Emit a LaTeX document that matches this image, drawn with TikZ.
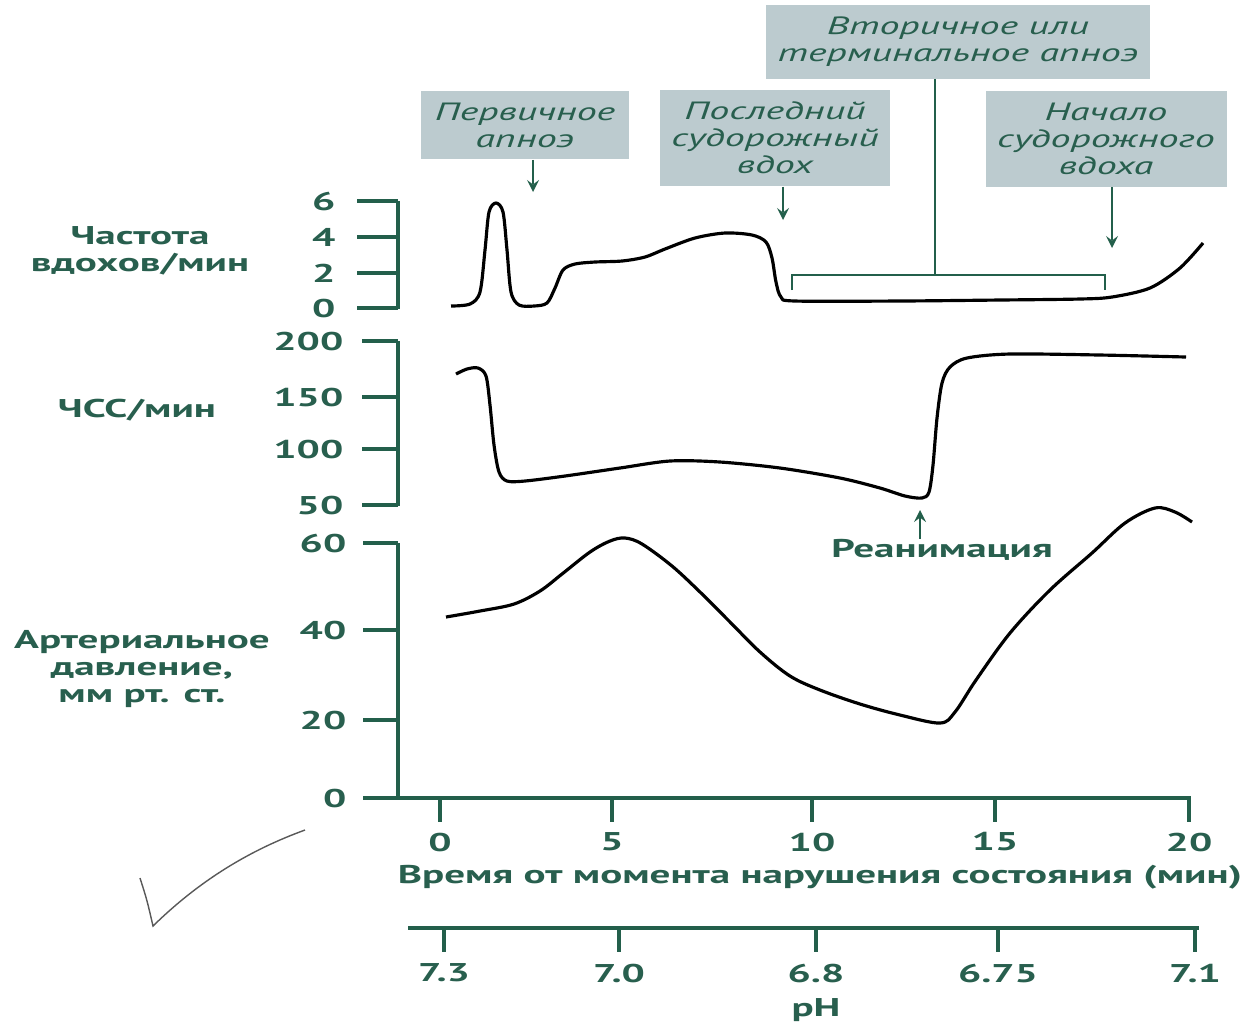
\documentclass[tikz,border=0pt]{standalone}
\usepackage{fontspec}
\setmainfont[FakeStretch=1.6]{PT Sans}
\usetikzlibrary{arrows, positioning}
\definecolor{axgreen}{RGB}{35,95,75}
\definecolor{txtgreen}{RGB}{40,95,78}
\definecolor{boxgrey}{RGB}{188,203,207}

\begin{document}
\begin{tikzpicture}[x=0.01cm, y=-0.01cm, >=stealth,
  axis/.style={axgreen, line width=1.4pt},
  tick/.style={axgreen, line width=0.9pt},
  val/.style={font=\fontsize{7.3}{7.7}\selectfont\bfseries, text=txtgreen, inner sep=0pt},
  panel/.style={font=\fontsize{7.3}{7.7}\selectfont\bfseries, text=txtgreen, align=center, inner sep=0pt},
  note/.style={rectangle, fill=boxgrey, align=center, font=\fontsize{7.1}{7.7}\selectfont\itshape, text=txtgreen},
  link/.style={axgreen, line width=0.5pt},
  curve/.style={black, line width=0.9pt, line join=round}]
\useasboundingbox (0,0) rectangle (1243,1023);

% boxes
\node (secondary) [note, minimum width=3.72cm, minimum height=0.65cm] at (958,42) {Вторичное или\\терминальное апноэ};
\node (primary) [note, minimum width=2.08cm, minimum height=0.65cm] at (525,125) {Первичное\\апноэ};
\node (lastgasp) [note, minimum width=2.20cm, minimum height=0.89cm] at (775,138) {Последний\\судорожный\\вдох};
\node (gaspstart) [note, minimum width=2.31cm, minimum height=0.87cm] at (1106,139) {Начало\\судорожного\\вдоха};

\coordinate (primtip) at (533,192);
\coordinate (lasttip) at (783,220);
\coordinate (starttip) at (1112,248);
\coordinate (brmid) at (935,275);
\coordinate (brleft) at (792,275);
\coordinate (brright) at (1105,275);

\draw [->, link] (primary.south -| primtip) -- (primtip);
\draw [->, link] (lastgasp.south -| lasttip) -- (lasttip);
\draw [->, link] (gaspstart.south -| starttip) -- (starttip);
\draw [link] (secondary.south -| brmid) -- (brmid);
\draw [link] ([yshift=-0.15cm]brleft) -- (brleft) -- (brright) -- ([yshift=-0.15cm]brright);

% breathing rate
\node (rate) [panel] at (140,251) {Частота\\вдохов/мин};
\draw [axis] (398,201) -- (398,309);
\foreach \y/\v in {201/6, 237/4, 273/2, 308/0} {
  \draw [tick] (357,\y) -- (398,\y);
  \node (r\v) [val, anchor=east] at (336,\y) {\v};
}
\draw [curve] plot [smooth, tension=0.5] coordinates {(451,306) (470,304) (480,292) (485,250) (489,212) (496,203) (503,212) (507,250) (511,292) (519,305) (534,306) (547,303) (555,288) (563,270) (575,264) (595,262) (622,261) (645,257) (665,249) (695,238) (725,233) (752,235) (766,242) (772,258) (776,282) (781,297) (795,301) (900,301) (1000,300) (1080,299) (1112,297) (1150,288) (1180,268) (1203,243)};

% heart rate
\node (hr) [panel] at (137,410) {ЧСС/мин};
\draw [axis] (398,341) -- (398,506);
\foreach \y/\v in {341/200, 397/150, 449/100, 505/50} {
  \draw [tick] (362,\y) -- (398,\y);
  \node (h\v) [val, anchor=east] at (344,\y) {\v};
}
\coordinate (hrmin) at (920,510);
\draw [curve] plot [smooth, tension=0.5] coordinates {(456,374) (467,369) (478,368) (486,376) (490,405) (494,445) (499,472) (507,481) (525,481) (565,476) (620,468) (670,461) (720,462) (780,468) (840,478) (880,488) (905,496) (922,498) (929,492) (933,465) (937,418) (942,383) (950,367) (967,358) (1010,354) (1100,355) (1186,357)};
\node (reanim) [val] at (942,550) {Реанимация};
\draw [->, link] (reanim.north -| hrmin) -- (hrmin);

% blood pressure
\node (bp) [panel] at (142,669) {Артериальное\\давление,\\мм рт. ст.};
\draw [axis] (398,543) -- (398,798) -- (1191,798);
\foreach \y/\v in {543/60, 630/40, 720/20, 798/0} {
  \draw [tick] (363,\y) -- (398,\y);
  \node (p\v) [val, anchor=east] at (347,\y) {\v};
}
\draw [curve] plot [smooth, tension=0.55] coordinates {(446,617) (480,611) (514,604) (540,591) (562,574) (590,552) (610,541) (625,538) (642,544) (672,566) (700,592) (730,622) (760,652) (790,676) (820,690) (860,704) (900,715) (940,723) (955,712) (976,680) (1010,633) (1050,590) (1092,553) (1125,523) (1155,508) (1175,512) (1192,522)};

% time axis
\foreach \x/\v in {440/0, 612/5, 812/10, 995/15, 1189/20} {
  \draw [tick] (\x,798) -- (\x,822);
  \node (t\v) [val] at (\x,842) {\v};
}
\node (time) [val] at (820,877) {Время от момента нарушения состояния (мин)};

% pH axis
\draw [axis] (408,928) -- (1199,928);
\foreach \x/\v [count=\i] in {444/7.3, 619/7.0, 816/6.8, 998/6.75, 1195/7.1} {
  \draw [tick] (\x,928) -- (\x,952);
  \node (ph\i) [val] at (\x,973) {\v};
}
\node (ph) [val] at (816,1010) {pH};

% pencil tick
\draw [black!65, line width=0.4pt] (140,878) .. controls (147,900) .. (153,926) .. controls (200,880) and (250,850) .. (305,830);
\end{tikzpicture}
\end{document}
